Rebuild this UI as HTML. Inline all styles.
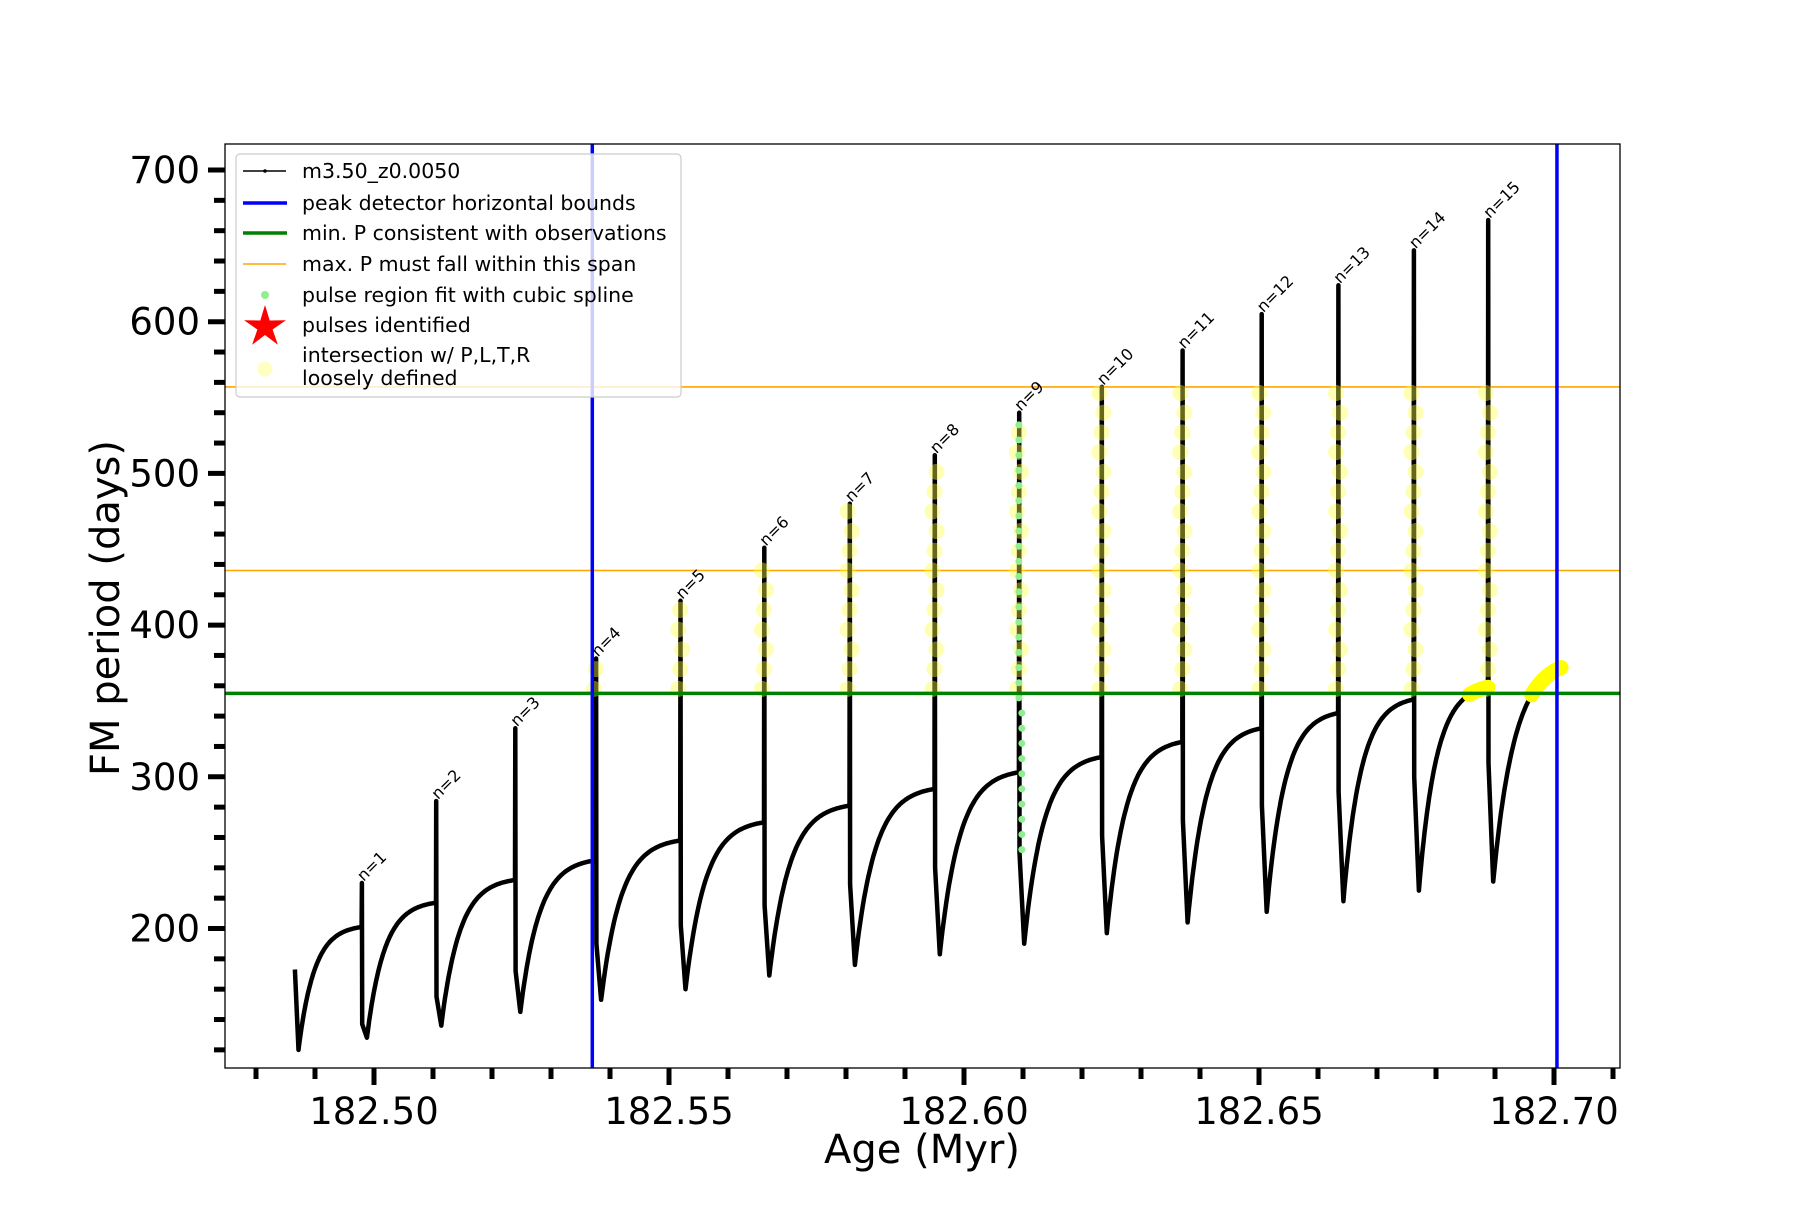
<!DOCTYPE html>
<html><head><meta charset="utf-8"><style>
body{margin:0;background:#fff}
svg text{font-family:"DejaVu Sans","Liberation Sans",sans-serif}
</style></head><body>
<svg id="c" width="1800" height="1200" xmlns="http://www.w3.org/2000/svg">
<rect width="1800" height="1200" fill="#fff"/>
<g id="plot"></g>
</svg>
<script>
const pulseAges=[182.4979,182.5105,182.5239,182.5376,182.5519,182.5661,182.5806,182.5950,182.6093,182.6233,182.6370,182.6504,182.6634,182.6762,182.6888];
const peakP=[230,284,332,378,416,451,480,512,540,557,581,605,624,647,667];
const plateauP=[201,217,232,245,258,270,281,292,303,313,323,332,342,351,359];
const postDropP=[137,155,172,190,202,215,229,240,250,261,271,281,290,300,309];
const minP=[128,136,145,153,160,169,176,183,190,197,204,211,218,225,231];
const startAge=182.4866, startP=173, firstMin=120, endAge=182.7012, endP=372;
const xTicks=[182.50,182.55,182.60,182.65,182.70];
const xTickLabels=["182.50","182.55","182.60","182.65","182.70"];
const yTicks=[200,300,400,500,600,700];
const blueBounds=[182.537,182.7005];
const greenMin=[355];
const orangeSpan=[436,557];

const NS="http://www.w3.org/2000/svg";
const L=225,R=1620,T=144,B=1068;
const X=a=>374+(a-182.50)*5900;
const Y=v=>170+(700-v)*1.517;
const g=document.getElementById('plot');
function el(t,a,p){const e=document.createElementNS(NS,t);for(const k in a)e.setAttribute(k,a[k]);(p||g).appendChild(e);return e;}

const defs=el('defs',{});const cp=el('clipPath',{id:'clip'},defs);el('rect',{x:L,y:T,width:R-L,height:B-T},cp);
const inner=el('g',{'clip-path':'url(#clip)'});

let pts=[];let rec=[];
function recover(t0,v0,t1,v1,k){for(let i=0;i<=60;i++){const s=i/60;const f=(1-Math.exp(-k*s))/(1-Math.exp(-k));const p=[t0+(t1-t0)*s,v0+(v1-v0)*f];pts.push(p);rec.push(p);}}
pts.push([startAge,startP]);
recover(startAge+0.0006,firstMin,pulseAges[0],plateauP[0],4);
for(let i=0;i<pulseAges.length;i++){
  const tp=pulseAges[i];
  pts.push([tp,plateauP[i]]);pts.push([tp+0.00005,peakP[i]]);pts.push([tp+0.0001,postDropP[i]]);
  const tm=tp+0.0009;
  pts.push([tm,minP[i]]);
  const tn=i+1<pulseAges.length?pulseAges[i+1]:endAge, vn=i+1<pulseAges.length?plateauP[i+1]:endP;
  recover(tm,minP[i],tn,vn,i+1<pulseAges.length?4:3.2);
}
const d=pts.map((p,i)=>(i?'L':'M')+X(p[0]).toFixed(1)+' '+Y(p[1]).toFixed(1)).join(' ');

orangeSpan.forEach((v,i)=>{const e=el('line',{x1:L,x2:R,y1:Y(v),y2:Y(v),stroke:'#ffa500','stroke-width':1.6},inner);});

const line=el('path',{d:d,fill:'none',stroke:'#000','stroke-width':4.5,'stroke-linejoin':'round'},inner);



const yc=el('g',{},inner);
for(let i=3;i<pulseAges.length;i++){
  const top=Math.min(peakP[i]-4,555);
  for(let v=358,j=0;v<=top;v+=13,j++){
    el('circle',{cx:X(pulseAges[i])+((j%3)-1)*2,cy:Y(v),r:8,fill:'#ffff44','fill-opacity':0.4},yc);
  }
}

const gp=el('g',{},inner);
for(let v=252;v<=peakP[8]-2;v+=10){el('circle',{cx:X(pulseAges[8])+(v<350?3:0),cy:Y(v),r:3.5,fill:'#90ee90'},gp);}

const ys=rec.filter(p=>p[0]>182.680&&p[1]>354);
let segs=[],cur=[];
ys.forEach(p=>{if(cur.length&&p[0]-cur[cur.length-1][0]>0.0008){segs.push(cur);cur=[];}cur.push(p);});if(cur.length)segs.push(cur);
segs.forEach((s,i)=>{const e=el('path',{d:s.map((p,k)=>(k?'L':'M')+X(p[0])+' '+Y(p[1])).join(' '),fill:'none',stroke:'#ffff00','stroke-width':15,'stroke-linecap':'round'},inner);});

greenMin.forEach(v=>{const e=el('line',{x1:L,x2:R,y1:Y(v),y2:Y(v),stroke:'#008000','stroke-width':3.5},inner);});
blueBounds.forEach((a,i)=>{const e=el('line',{x1:X(a),x2:X(a),y1:T,y2:B,stroke:'#0000ff','stroke-width':3.5},inner);});

pulseAges.forEach((a,i)=>{const t=el('text',{x:0,y:0,'font-size':16,transform:`translate(${X(a)+2},${Y(peakP[i])-1}) rotate(-45)`});t.textContent='n='+(i+1);});

const fr=el('rect',{x:L,y:T,width:R-L,height:B-T,fill:'none',stroke:'#000','stroke-width':1.3});

for(let k=-2;k<=21;k++){const a=182.50+k*0.01;const x=X(a);if(x<L||x>R)continue;const maj=k%5===0;el('line',{x1:x,x2:x,y1:B,y2:B+(maj?17:11),stroke:'#000','stroke-width':5});}
xTicks.forEach((a,i)=>{const t=el('text',{x:X(a),y:B+56,'font-size':37,'text-anchor':'middle'});t.textContent=xTickLabels[i];});
for(let v=120;v<=716;v+=20){const y=Y(v);const maj=v%100===0;el('line',{x1:L,x2:L-(maj?17:11),y1:y,y2:y,stroke:'#000','stroke-width':5});}
yTicks.forEach(v=>{const t=el('text',{x:200,y:Y(v)+13,'font-size':37,'text-anchor':'end'});t.textContent=String(v);});

const xl=el('text',{x:922,y:1163,'font-size':40,'text-anchor':'middle'});xl.textContent='Age (Myr)';
const yl=el('text',{x:0,y:0,'font-size':40,'text-anchor':'middle',transform:'translate(119,608) rotate(-90)'});yl.textContent='FM period (days)';

const lg=el('g',{});
el('rect',{x:236,y:154,width:445,height:243,rx:4,fill:'#fff','fill-opacity':0.8,stroke:'#ccc','stroke-width':1.2},lg);
const rows=[[171,'m3.50_z0.0050','line'],[203,'peak detector horizontal bounds','blue'],[233,'min. P consistent with observations','green'],[264,'max. P must fall within this span','orange'],[295,'pulse region fit with cubic spline','gdot'],[325,'pulses identified','star']];
rows.forEach(r=>{const y=r[0];
 if(r[2]=='line'){el('line',{x1:243,x2:286,y1:y,y2:y,stroke:'#000','stroke-width':1.5},lg);el('circle',{cx:265,cy:y,r:1.8},lg);}
 if(r[2]=='blue')el('line',{x1:243,x2:287,y1:y,y2:y,stroke:'#0000ff','stroke-width':3.5},lg);
 if(r[2]=='green')el('line',{x1:243,x2:287,y1:y,y2:y,stroke:'#008000','stroke-width':3.5},lg);
 if(r[2]=='orange')el('line',{x1:243,x2:286,y1:y,y2:y,stroke:'#ffa500','stroke-width':1.6},lg);
 if(r[2]=='gdot')el('circle',{cx:265,cy:y,r:4,fill:'#90ee90'},lg);
 if(r[2]=='star'){let s='';for(let i=0;i<10;i++){const rr=i%2?8:22;const an=-Math.PI/2+i*Math.PI/5;s+=(265+rr*Math.cos(an)).toFixed(1)+','+(y+2+rr*Math.sin(an)).toFixed(1)+' ';}el('polygon',{points:s,fill:'#ff0000'},lg);}
 const t=el('text',{x:302,y:y+7,'font-size':20.5},lg);t.textContent=r[1];
});
el('circle',{cx:265,cy:369,r:7.5,fill:'#ffff99','fill-opacity':0.6},lg);
const t1=el('text',{x:302,y:362,'font-size':20.5},lg);t1.textContent='intersection w/ P,L,T,R';
const t2=el('text',{x:302,y:385,'font-size':20.5},lg);t2.textContent='loosely defined';
</script>
</body></html>
